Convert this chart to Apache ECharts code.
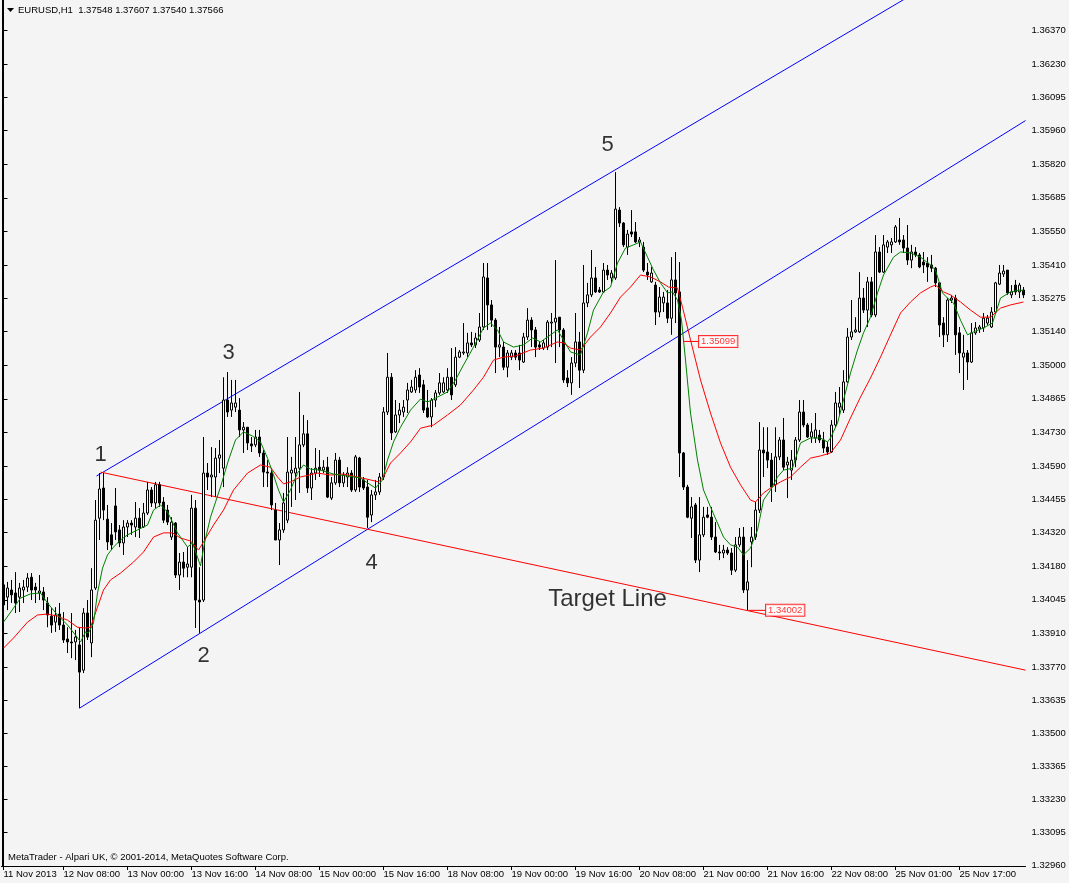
<!DOCTYPE html>
<html><head><meta charset="utf-8">
<script src="https://cdn.jsdelivr.net/npm/echarts@6/dist/echarts.min.js"></script>
<style>html,body{margin:0;padding:0;background:#f4f4f4}#c{width:1069px;height:883px}</style>
</head><body><div id="c"></div>
<script>
const xTickLabels = ['11 Nov 2013','12 Nov 08:00','13 Nov 00:00','13 Nov 16:00','14 Nov 08:00','15 Nov 00:00','15 Nov 16:00','18 Nov 08:00','19 Nov 00:00','19 Nov 16:00','20 Nov 08:00','21 Nov 00:00','21 Nov 16:00','22 Nov 08:00','25 Nov 01:00','25 Nov 17:00'];
const yTickLabels = ['1.36370','1.36230','1.36095','1.35960','1.35820','1.35685','1.35550','1.35410','1.35275','1.35140','1.35000','1.34865','1.34730','1.34590','1.34455','1.34320','1.34180','1.34045','1.33910','1.33770','1.33635','1.33500','1.33365','1.33230','1.33095','1.32960'];
// [open, close, low, high]
const candles = [
[1.34106,1.34024,1.33962,1.34137],[1.34056,1.34093,1.34003,1.34118],[1.34085,1.34065,1.34032,1.34126],[1.34073,1.34032,1.33991,1.34158],
[1.34056,1.34093,1.33995,1.34114],[1.34085,1.34097,1.34032,1.34126],[1.34097,1.34134,1.34077,1.34154],[1.34137,1.34085,1.34044,1.34154],
[1.34097,1.34085,1.34032,1.34114],[1.34073,1.34081,1.34044,1.34146],[1.34077,1.34044,1.34003,1.34097],[1.34032,1.33983,1.33933,1.34056],
[1.33978,1.33942,1.33910,1.34011],[1.33954,1.33983,1.33914,1.34015],[1.33987,1.33942,1.33922,1.34032],[1.33942,1.33881,1.33869,1.33995],
[1.33885,1.33873,1.33828,1.33933],[1.33873,1.33869,1.33807,1.33991],[1.33873,1.33893,1.33799,1.33922],[1.33861,1.33750,1.33603,1.33933],
[1.33758,1.33991,1.33746,1.34011],[1.33991,1.33893,1.33881,1.34044],[1.33869,1.34085,1.33811,1.34174],[1.34093,1.34370,1.34085,1.34452],
[1.34378,1.34497,1.34289,1.34562],[1.34501,1.34411,1.34370,1.34562],[1.34374,1.34281,1.34248,1.34432],[1.34310,1.34269,1.34248,1.34358],
[1.34428,1.34322,1.34289,1.34501],[1.34330,1.34277,1.34260,1.34350],[1.34277,1.34342,1.34228,1.34370],[1.34342,1.34358,1.34301,1.34370],
[1.34358,1.34350,1.34310,1.34370],[1.34342,1.34378,1.34301,1.34444],[1.34378,1.34338,1.34297,1.34419],[1.34342,1.34399,1.34338,1.34440],
[1.34399,1.34493,1.34391,1.34526],[1.34493,1.34440,1.34424,1.34505],[1.34440,1.34514,1.34419,1.34526],[1.34514,1.34440,1.34424,1.34526],
[1.34444,1.34370,1.34358,1.34464],[1.34411,1.34362,1.34350,1.34432],[1.34301,1.34362,1.34289,1.34382],[1.34358,1.34146,1.34134,1.34362],
[1.34146,1.34199,1.34085,1.34236],[1.34199,1.34174,1.34137,1.34240],[1.34178,1.34191,1.34137,1.34260],[1.34178,1.34419,1.34137,1.34473],
[1.34419,1.34044,1.33930,1.34452],[1.34044,1.34036,1.33910,1.34178],[1.34044,1.34562,1.34036,1.34709],[1.34562,1.34546,1.34493,1.34603],
[1.34546,1.34554,1.34464,1.34668],[1.34546,1.34623,1.34464,1.34664],[1.34623,1.34636,1.34562,1.34697],[1.34582,1.34860,1.34505,1.34953],
[1.34860,1.34811,1.34791,1.34974],[1.34819,1.34848,1.34791,1.34942],[1.34831,1.34848,1.34811,1.34942],[1.34819,1.34738,1.34709,1.34868],
[1.34738,1.34749,1.34644,1.34770],[1.34749,1.34685,1.34656,1.34749],[1.34681,1.34673,1.34648,1.34709],[1.34677,1.34709,1.34668,1.34738],
[1.34709,1.34644,1.34628,1.34738],[1.34644,1.34566,1.34505,1.34656],[1.34566,1.34562,1.34505,1.34615],[1.34562,1.34432,1.34411,1.34574],
[1.34411,1.34289,1.34289,1.34440],[1.34289,1.34330,1.34187,1.34358],[1.34330,1.34440,1.34318,1.34481],[1.34370,1.34566,1.34358,1.34709],
[1.34562,1.34574,1.34424,1.34628],[1.34562,1.34582,1.34452,1.34709],[1.34582,1.34677,1.34481,1.34893],[1.34677,1.34722,1.34668,1.34799],
[1.34722,1.34501,1.34481,1.34778],[1.34501,1.34562,1.34452,1.34582],[1.34562,1.34582,1.34534,1.34664],[1.34586,1.34574,1.34546,1.34656],
[1.34574,1.34586,1.34562,1.34615],[1.34586,1.34464,1.34460,1.34628],[1.34460,1.34522,1.34452,1.34546],[1.34522,1.34615,1.34514,1.34644],
[1.34615,1.34522,1.34505,1.34628],[1.34522,1.34554,1.34505,1.34566],[1.34546,1.34562,1.34505,1.34586],[1.34562,1.34493,1.34485,1.34574],
[1.34493,1.34628,1.34485,1.34636],[1.34623,1.34505,1.34485,1.34628],[1.34534,1.34501,1.34493,1.34546],[1.34505,1.34382,1.34338,1.34534],
[1.34391,1.34473,1.34362,1.34493],[1.34473,1.34485,1.34452,1.34534],[1.34485,1.34546,1.34473,1.34562],[1.34546,1.34811,1.34534,1.34831],
[1.34811,1.34953,1.34799,1.35052],[1.34953,1.34726,1.34697,1.34970],[1.34730,1.34799,1.34726,1.34860],[1.34799,1.34819,1.34766,1.34848],
[1.34811,1.34831,1.34791,1.34860],[1.34860,1.34901,1.34807,1.34930],[1.34893,1.34913,1.34889,1.34942],[1.34901,1.34953,1.34889,1.34982],
[1.34962,1.34913,1.34889,1.34990],[1.34922,1.34819,1.34807,1.34942],[1.34828,1.34791,1.34787,1.34901],[1.34791,1.34860,1.34749,1.34868],
[1.34860,1.34889,1.34831,1.34901],[1.34889,1.34930,1.34881,1.34970],[1.34893,1.34930,1.34889,1.34953],[1.34901,1.34953,1.34889,1.34990],
[1.34953,1.34881,1.34860,1.35072],[1.34922,1.35035,1.34913,1.35076],[1.35035,1.35056,1.35031,1.35064],[1.35052,1.35056,1.35044,1.35174],
[1.35052,1.35093,1.35035,1.35134],[1.35093,1.35085,1.35076,1.35138],[1.35085,1.35113,1.35072,1.35134],[1.35105,1.35158,1.35097,1.35215],
[1.35158,1.35362,1.35146,1.35419],[1.35358,1.35248,1.35146,1.35419],[1.35248,1.35186,1.35158,1.35268],[1.35186,1.35076,1.34970,1.35194],
[1.35076,1.35085,1.35035,1.35158],[1.35076,1.34994,1.34982,1.35097],[1.34994,1.35052,1.34953,1.35064],[1.35035,1.35052,1.35023,1.35064],
[1.35052,1.35035,1.35023,1.35064],[1.35052,1.35023,1.34982,1.35085],[1.35015,1.35117,1.35011,1.35134],[1.35117,1.35186,1.35105,1.35235],
[1.35186,1.35146,1.35076,1.35198],[1.35146,1.35076,1.35035,1.35158],[1.35085,1.35076,1.35064,1.35097],[1.35072,1.35093,1.35064,1.35105],
[1.35076,1.35178,1.35064,1.35186],[1.35174,1.35178,1.35076,1.35215],[1.35178,1.35194,1.35011,1.35431],[1.35198,1.35146,1.35076,1.35198],
[1.35146,1.34942,1.34930,1.35154],[1.34950,1.34930,1.34913,1.34982],[1.34930,1.35011,1.34881,1.35035],[1.35011,1.35097,1.34994,1.35215],
[1.35097,1.34982,1.34909,1.35138],[1.34982,1.35256,1.34970,1.35411],[1.35256,1.35289,1.35239,1.35338],[1.35289,1.35358,1.35280,1.35472],
[1.35358,1.35301,1.35297,1.35403],[1.35309,1.35301,1.35297,1.35321],[1.35301,1.35390,1.35297,1.35419],[1.35390,1.35370,1.35350,1.35411],
[1.35358,1.35378,1.35338,1.35390],[1.35358,1.35639,1.35350,1.35790],[1.35635,1.35582,1.35566,1.35647],[1.35582,1.35493,1.35484,1.35586],
[1.35484,1.35537,1.35452,1.35554],[1.35546,1.35537,1.35525,1.35635],[1.35546,1.35505,1.35501,1.35586],[1.35505,1.35513,1.35484,1.35525],
[1.35484,1.35390,1.35382,1.35505],[1.35382,1.35370,1.35350,1.35419],[1.35342,1.35378,1.35338,1.35403],[1.35329,1.35219,1.35166,1.35342],
[1.35219,1.35280,1.35198,1.35321],[1.35256,1.35280,1.35219,1.35301],[1.35256,1.35194,1.35174,1.35309],[1.35194,1.35350,1.35126,1.35443],
[1.35350,1.35297,1.35174,1.35464],[1.35301,1.34644,1.34546,1.35423],[1.34644,1.34505,1.34493,1.34648],[1.34505,1.34382,1.34378,1.34514],
[1.34378,1.34424,1.34297,1.34464],[1.34432,1.34207,1.34195,1.34440],[1.34207,1.34310,1.34158,1.34464],[1.34310,1.34382,1.34301,1.34424],
[1.34391,1.34382,1.34378,1.34424],[1.34382,1.34301,1.34289,1.34424],[1.34301,1.34240,1.34236,1.34362],[1.34240,1.34236,1.34207,1.34269],
[1.34236,1.34248,1.34215,1.34269],[1.34248,1.34236,1.34228,1.34260],[1.34236,1.34166,1.34146,1.34256],[1.34166,1.34269,1.34158,1.34301],
[1.34269,1.34301,1.34260,1.34338],[1.34301,1.34085,1.34073,1.34342],[1.34085,1.34118,1.34003,1.34207],[1.34281,1.34301,1.34178,1.34342],
[1.34301,1.34411,1.34289,1.34444],[1.34411,1.34656,1.34399,1.34770],[1.34656,1.34644,1.34546,1.34749],[1.34648,1.34615,1.34582,1.34749],
[1.34615,1.34505,1.34444,1.34644],[1.34514,1.34628,1.34485,1.34749],[1.34628,1.34697,1.34615,1.34709],[1.34697,1.34586,1.34574,1.34787],
[1.34595,1.34607,1.34460,1.34628],[1.34574,1.34615,1.34534,1.34656],[1.34615,1.34697,1.34586,1.34709],[1.34697,1.34811,1.34689,1.34860],
[1.34811,1.34758,1.34749,1.34860],[1.34758,1.34709,1.34705,1.34766],[1.34709,1.34730,1.34685,1.34766],[1.34705,1.34738,1.34685,1.34807],
[1.34717,1.34697,1.34685,1.34738],[1.34697,1.34664,1.34644,1.34730],[1.34668,1.34648,1.34636,1.34689],[1.34648,1.34758,1.34644,1.34778],
[1.34758,1.34848,1.34749,1.34893],[1.34831,1.34848,1.34799,1.34913],[1.34819,1.34934,1.34807,1.34982],[1.34934,1.35117,1.34930,1.35154],
[1.35117,1.35138,1.35105,1.35268],[1.35138,1.35146,1.35134,1.35198],[1.35138,1.35276,1.35134,1.35382],[1.35276,1.35227,1.35215,1.35317],
[1.35227,1.35342,1.35158,1.35362],[1.35342,1.35207,1.35198,1.35362],[1.35207,1.35464,1.35198,1.35533],[1.35464,1.35382,1.35378,1.35484],
[1.35382,1.35493,1.35378,1.35533],[1.35484,1.35505,1.35460,1.35513],[1.35493,1.35505,1.35460,1.35521],[1.35505,1.35566,1.35501,1.35574],
[1.35513,1.35505,1.35493,1.35603],[1.35513,1.35480,1.35460,1.35533],[1.35480,1.35431,1.35411,1.35574],[1.35431,1.35464,1.35398,1.35493],
[1.35464,1.35452,1.35443,1.35484],[1.35452,1.35403,1.35398,1.35460],[1.35423,1.35411,1.35378,1.35464],[1.35419,1.35403,1.35342,1.35443],
[1.35411,1.35398,1.35382,1.35452],[1.35398,1.35338,1.35321,1.35403],[1.35338,1.35166,1.35117,1.35338],[1.35174,1.35126,1.35076,1.35198],
[1.35126,1.35268,1.35097,1.35276],[1.35268,1.35276,1.35256,1.35289],[1.35276,1.35126,1.35044,1.35289],[1.35134,1.35052,1.34970,1.35158],
[1.35035,1.35052,1.34901,1.35126],[1.35052,1.35015,1.34942,1.35064],[1.35015,1.35134,1.35011,1.35174],[1.35134,1.35154,1.35126,1.35178],
[1.35150,1.35158,1.35134,1.35166],[1.35154,1.35194,1.35138,1.35215],[1.35174,1.35194,1.35166,1.35207],[1.35158,1.35219,1.35154,1.35239],
[1.35219,1.35338,1.35215,1.35342],[1.35333,1.35378,1.35329,1.35411],[1.35374,1.35386,1.35362,1.35411],[1.35390,1.35297,1.35289,1.35390],
[1.35289,1.35301,1.35276,1.35329],[1.35329,1.35301,1.35289,1.35350],[1.35301,1.35329,1.35276,1.35338],[1.35309,1.35289,1.35276,1.35321]
];
// [bar index, price] read along the green (fast) moving average
const maFast = [[0,1.33954],[2.5,1.34011],[4.25,1.34052],[6.75,1.34069],[9.25,1.34073],[11,1.34032],[13.5,1.33983],[16,1.33942],[18,1.33901],[19.25,1.33873],[20.5,1.33914],[21.25,1.33910],[22.5,1.33950],[23.5,1.34073],[24.75,1.34174],[26,1.34228],[27.5,1.34260],[29.25,1.34289],[31,1.34310],[33.5,1.34330],[36,1.34350],[37.5,1.34411],[39.25,1.34432],[41,1.34403],[42.25,1.34362],[43.5,1.34318],[44.75,1.34289],[46,1.34260],[47.25,1.34277],[48.5,1.34219],[49.25,1.34183],[50.25,1.34277],[51.75,1.34382],[54.25,1.34505],[56.25,1.34615],[58,1.34697],[60,1.34730],[62.25,1.34713],[64.25,1.34689],[66,1.34623],[67.5,1.34554],[68.75,1.34493],[70,1.34444],[71.75,1.34493],[73.5,1.34562],[75,1.34595],[76.75,1.34578],[79.25,1.34574],[82.5,1.34558],[86,1.34550],[89.25,1.34542],[91,1.34522],[93,1.34501],[94.75,1.34534],[96,1.34615],[97.5,1.34689],[99.25,1.34749],[101.75,1.34819],[104.25,1.34864],[106,1.34852],[108.5,1.34872],[111,1.34893],[113,1.34942],[115,1.35003],[117.5,1.35076],[120,1.35154],[121.75,1.35174],[123.5,1.35146],[125,1.35097],[127.5,1.35076],[130,1.35085],[132.25,1.35113],[134.25,1.35097],[136.75,1.35126],[138.5,1.35146],[140,1.35105],[141.75,1.35056],[144.25,1.35044],[146,1.35134],[147.5,1.35227],[150,1.35301],[151.75,1.35321],[153.5,1.35419],[155.5,1.35480],[157.5,1.35493],[159.25,1.35505],[161,1.35443],[162.5,1.35390],[164.25,1.35338],[166,1.35297],[167.25,1.35301],[168.5,1.35268],[169.5,1.35186],[170.5,1.35023],[171.75,1.34807],[173.5,1.34615],[175,1.34493],[176.75,1.34424],[178.5,1.34358],[180,1.34301],[181.75,1.34269],[183.5,1.34260],[185,1.34228],[186.75,1.34256],[188.5,1.34330],[190,1.34452],[191.75,1.34493],[193.5,1.34546],[195,1.34574],[197.25,1.34582],[199.25,1.34685],[201.75,1.34705],[204.25,1.34705],[206,1.34689],[206.75,1.34705],[208.5,1.34766],[210,1.34860],[211.75,1.34970],[213.5,1.35064],[215,1.35134],[216.75,1.35198],[218.5,1.35297],[220,1.35370],[222.5,1.35443],[224.25,1.35464],[226.75,1.35460],[229.25,1.35443],[231.75,1.35411],[233,1.35390],[234.75,1.35297],[236,1.35276],[237.5,1.35256],[239.25,1.35186],[241,1.35126],[242.5,1.35138],[245,1.35154],[247.25,1.35174],[249.25,1.35276],[251.75,1.35301],[254.25,1.35309],[255,1.35305]];
// [bar index, price] read along the red (slow) moving average
const maSlow = [[0,1.33848],[2.5,1.33889],[6,1.33954],[8.5,1.33983],[11,1.33987],[13.5,1.33978],[16,1.33962],[18.5,1.33933],[20.5,1.33930],[21.75,1.33933],[23.5,1.34015],[25,1.34085],[26.75,1.34126],[29.25,1.34154],[32.5,1.34199],[35,1.34240],[37.5,1.34301],[40,1.34318],[42.25,1.34318],[44.25,1.34297],[46.75,1.34285],[48.75,1.34248],[50,1.34281],[52.5,1.34350],[55,1.34411],[57.5,1.34493],[61,1.34562],[64.25,1.34595],[66.75,1.34586],[68.5,1.34546],[70,1.34518],[71.75,1.34526],[74.25,1.34546],[78.5,1.34562],[81.75,1.34554],[85,1.34558],[88.5,1.34546],[91.75,1.34534],[93.75,1.34526],[95,1.34546],[96.75,1.34603],[99.25,1.34644],[101.75,1.34689],[104.25,1.34745],[107.5,1.34758],[111,1.34799],[114.25,1.34840],[117.5,1.34901],[120,1.34953],[122.5,1.35023],[125,1.35035],[128,1.35040],[131.75,1.35064],[135,1.35072],[138.5,1.35097],[140,1.35093],[141.75,1.35072],[144.25,1.35064],[146.75,1.35117],[149.25,1.35158],[151.75,1.35215],[154.25,1.35280],[156.75,1.35321],[159.25,1.35370],[161.75,1.35362],[164.25,1.35342],[166.25,1.35321],[168.5,1.35317],[169.75,1.35239],[171.75,1.35105],[174.25,1.34942],[176.75,1.34807],[179.25,1.34685],[181.75,1.34586],[184.25,1.34514],[186.75,1.34452],[188,1.34444],[190,1.34481],[191.75,1.34501],[194.25,1.34526],[196.75,1.34546],[199.25,1.34586],[201.75,1.34623],[204.25,1.34632],[206.75,1.34644],[209.25,1.34697],[211.75,1.34787],[214.25,1.34872],[216.75,1.34950],[219.25,1.35035],[221.75,1.35126],[224.25,1.35215],[226.75,1.35260],[229.25,1.35297],[231.75,1.35321],[233,1.35329],[235,1.35301],[236.75,1.35289],[239.25,1.35260],[241.75,1.35227],[244.25,1.35198],[246.75,1.35198],[249.25,1.35235],[251.75,1.35248],[255,1.35260]];
// trend lines: [bar index, price] end points
const channelLower = [[19,1.33603],[255.5,1.36000]];
const channelUpper = [[23.25,1.34550],[255.5,1.36787]];
const targetLine = [[24.25,1.34566],[255.5,1.33758]];
// wave annotations: [text, bar index, price]
const waveLabels = [['1',24.25,1.34636],['2',50,1.33816],['3',56.25,1.35052],['4',92,1.34195],['5',151,1.35900]];
const textNotes = [['Target Line',151,1.34048]];
// price tags: [price, line start bar, tag bar]
const priceTags = [[1.35099,170,173.75],[1.34002,186.25,190.5]];

const FONT = '"Liberation Sans", Arial, sans-serif';
const N = candles.length;
const cats = candles.map((_, i) => String(i));
const labelAt = {};
xTickLabels.forEach((t, k) => { labelAt[k === 0 ? 0 : 16 * k - 1] = t; });
const showAt = (i) => labelAt[i] !== undefined;
const yTicks = yTickLabels.map(Number);

const series = [
  {type:'candlestick', data:candles, barWidth:2, xAxisIndex:0, yAxisIndex:0, z:4,
   itemStyle:{color:'#ffffff', color0:'#000000', borderColor:'#000000', borderColor0:'#000000', borderColorDoji:'#000000', borderWidth:1}},
  {type:'line', xAxisIndex:1, data:maSlow, symbol:'none', smooth:false, lineStyle:{color:'#ff0000', width:1}, z:5},
  {type:'line', xAxisIndex:1, data:maFast, symbol:'none', smooth:false, lineStyle:{color:'#008000', width:1}, z:6},
  {type:'line', xAxisIndex:1, data:channelLower, symbol:'none', lineStyle:{color:'#0000ff', width:1}, z:3},
  {type:'line', xAxisIndex:1, data:channelUpper, symbol:'none', lineStyle:{color:'#0000ff', width:1}, z:3},
  {type:'line', xAxisIndex:1, data:targetLine, symbol:'none', lineStyle:{color:'#ff0000', width:1}, z:3},
  {type:'scatter', xAxisIndex:1, symbolSize:1, itemStyle:{color:'rgba(0,0,0,0)'}, z:7,
   data: waveLabels.map(w => ({name:w[0], value:[w[1], w[2]]})),
   label:{show:true, position:'inside', formatter:'{b}', fontSize:22, color:'#000', fontFamily:FONT}},
  {type:'scatter', xAxisIndex:1, symbolSize:1, itemStyle:{color:'rgba(0,0,0,0)'}, z:7,
   data: textNotes.map(w => ({name:w[0], value:[w[1], w[2]]})),
   label:{show:true, position:'inside', formatter:'{b}', fontSize:24, color:'#000', fontFamily:FONT}}
];
priceTags.forEach(p => {
  series.push({type:'line', xAxisIndex:1, data:[[p[1], p[0]], [p[2], p[0]]], symbol:'none', lineStyle:{color:'#ff0000', width:1}, z:7});
  series.push({type:'scatter', xAxisIndex:1, symbolSize:1, itemStyle:{color:'rgba(0,0,0,0)'}, z:8,
    data:[[p[2], p[0]]],
    label:{show:true, position:'right', distance:0, formatter: () => p[0].toFixed(5), color:'#ff0000', fontSize:9.5, fontFamily:FONT,
      borderColor:'#ff0000', borderWidth:1, backgroundColor:'#ffffff', padding:[1,2,0,2]}});
});

const chart = echarts.init(document.getElementById('c'), null, {renderer:'canvas'});
chart.setOption({
  animation:false,
  backgroundColor:'#f4f4f4',
  textStyle:{fontFamily:FONT},
  grid:{left:1.5, right:43.5, top:0, bottom:17},
  xAxis:[
    {type:'category', data:cats, boundaryGap:true,
     axisLine:{show:true, lineStyle:{color:'#000', width:1}},
     axisTick:{show:true, interval:(i)=>showAt(i), alignWithLabel:true, length:4, lineStyle:{color:'#000'}},
     axisLabel:{show:true, interval:(i)=>showAt(i), formatter:(v,i)=>labelAt[i]||'', align:'left', margin:3, fontSize:9.5, color:'#000', fontFamily:FONT},
     splitLine:{show:false}},
    {type:'value', min:-0.5, max:N-0.5, show:false, splitLine:{show:false}}
  ],
  yAxis:{type:'value', position:'right', min:1.32959, max:1.36492,
    axisLine:{show:true, lineStyle:{color:'#000', width:1}},
    axisTick:{show:true, customValues:yTicks, length:4, lineStyle:{color:'#000'}},
    axisLabel:{show:true, customValues:yTicks, formatter:(v)=>v.toFixed(5), margin:6, fontSize:9.5, color:'#000', fontFamily:FONT},
    splitLine:{show:false}},
  graphic:[
    {type:'line', shape:{x1:2.5, y1:0, x2:2.5, y2:866}, style:{stroke:'#000', lineWidth:1}, silent:true},
    {type:'polygon', shape:{points:[[7,8],[14,8],[10.5,12]]}, style:{fill:'#000'}, silent:true},
    {type:'text', left:18, top:5, style:{text:'EURUSD,H1  1.37548 1.37607 1.37540 1.37566', font:'9.5px "Liberation Sans"', fill:'#000'}, silent:true},
    {type:'text', left:8, top:852, style:{text:'MetaTrader - Alpari UK, © 2001-2014, MetaQuotes Software Corp.', font:'9.5px "Liberation Sans"', fill:'#000'}, silent:true}
  ],
  series: series
});
</script></body></html>
